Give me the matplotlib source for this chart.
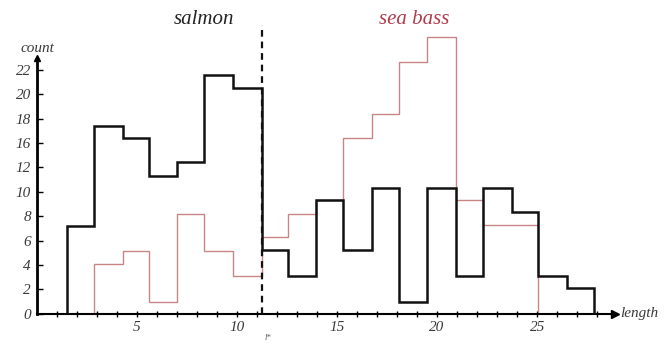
import matplotlib
matplotlib.use("Agg")
import matplotlib.pyplot as plt
import numpy as np

# ---- data ----
bin_edges = [1.51, 2.87, 4.30, 5.62, 7.00, 8.36, 9.83, 11.24, 12.57, 13.95,
             15.32, 16.73, 18.10, 19.51, 20.94, 22.31, 23.72, 25.05, 26.47, 27.85]
salmon_counts = [7.2, 15.4, 14.4, 11.3, 12.4, 19.6, 18.5, 5.2, 3.1, 9.3,
                 5.2, 10.3, 1.0, 10.3, 3.1, 10.3, 8.3, 3.1, 2.1]
seabass_counts = [0, 4.05, 5.1, 1.0, 8.2, 5.1, 3.1, 6.3, 8.2, 9.3,
                  14.4, 16.4, 20.6, 22.7, 9.3, 7.3, 7.3, 0, 0]
threshold = 11.24

x_major_ticks = [5, 10, 15, 20, 25]
x_major_labels = ["5", "10", "15", "20", "25"]
x_minor_ticks = list(range(1, 29))
y_ticks = [0, 2, 4, 6, 8, 10, 12, 14, 16, 18, 20]
y_tick_labels = ["0", "2", "4", "6", "8", "10", "12", "16", "18", "20", "22"]

# ---- figure ----
W, H = 671, 343
fig = plt.figure(figsize=(W / 100, H / 100), dpi=100)
px_per_x = 20.03
px_per_y = 12.2
x0_px, y0_px = 36.5, 313.7
xmax, ymax = 28.9, 24.0
y_axis_top = 21.0
ax = fig.add_axes([x0_px / W, (H - y0_px) / H,
                   xmax * px_per_x / W, ymax * px_per_y / H])
ax.set_xlim(0, xmax)
ax.set_ylim(0, ymax)
ax.patch.set_alpha(0)

serif = ["Liberation Serif", "DejaVu Serif"]
txt_col = "#3a3a3a"

# histograms
edges = np.array(bin_edges)
ax.stairs(seabass_counts, edges, color="#c98585", linewidth=1.0, zorder=2)
ax.stairs(salmon_counts, edges, color="#111111", linewidth=1.8, zorder=3)

# threshold
ax.plot([threshold, threshold], [0, 23.7], color="#111111", linestyle=(0, (3, 2.2)),
        linewidth=1.6, clip_on=False, zorder=4)

# spines / axes with arrows
for s in ["top", "right"]:
    ax.spines[s].set_visible(False)
ax.spines["left"].set_linewidth(2.0)
ax.spines["left"].set_bounds(0, y_axis_top)
ax.spines["bottom"].set_linewidth(1.5)
ax.plot(0, y_axis_top, "^", color="black", markersize=5, clip_on=False, zorder=5)
ax.plot(1, 0, ">", color="black", markersize=6, transform=ax.get_yaxis_transform(),
        clip_on=False, zorder=5)

ax.set_xticks(x_major_ticks)
ax.set_xticklabels(x_major_labels, fontfamily=serif, fontstyle="italic",
                   fontsize=11, color=txt_col)
ax.set_xticks(x_minor_ticks, minor=True)
ax.tick_params(axis="x", which="both", direction="inout", length=4, width=1,
               pad=3)
ax.set_yticks(y_ticks)
ax.set_yticklabels(y_tick_labels, fontfamily=serif, fontstyle="italic",
                   fontsize=11, color=txt_col)
ax.tick_params(axis="y", direction="in", length=4, width=1, pad=4)

# labels
fig.text(37.5 / W, 1 - 48 / H, "count", fontfamily=serif, fontstyle="italic",
         fontsize=11, color=txt_col, ha="center", va="center")
fig.text(620 / W, 1 - 314 / H, "length", fontfamily=serif, fontstyle="italic",
         fontsize=11, color=txt_col, ha="left", va="center")
fig.text(204 / W, 1 - 20 / H, "salmon", fontfamily=serif, fontstyle="italic",
         fontsize=15, color="#222222", ha="center", va="center")
fig.text(414 / W, 1 - 20 / H, "sea bass", fontfamily=serif, fontstyle="italic",
         fontsize=15, color="#b03a4a", ha="center", va="center")
fig.text(268 / W, 1 - 338 / H, "l*", fontfamily=serif, fontstyle="italic",
         fontsize=6, color="#555555", ha="center", va="center")

fig.savefig("out.png", dpi=100)
